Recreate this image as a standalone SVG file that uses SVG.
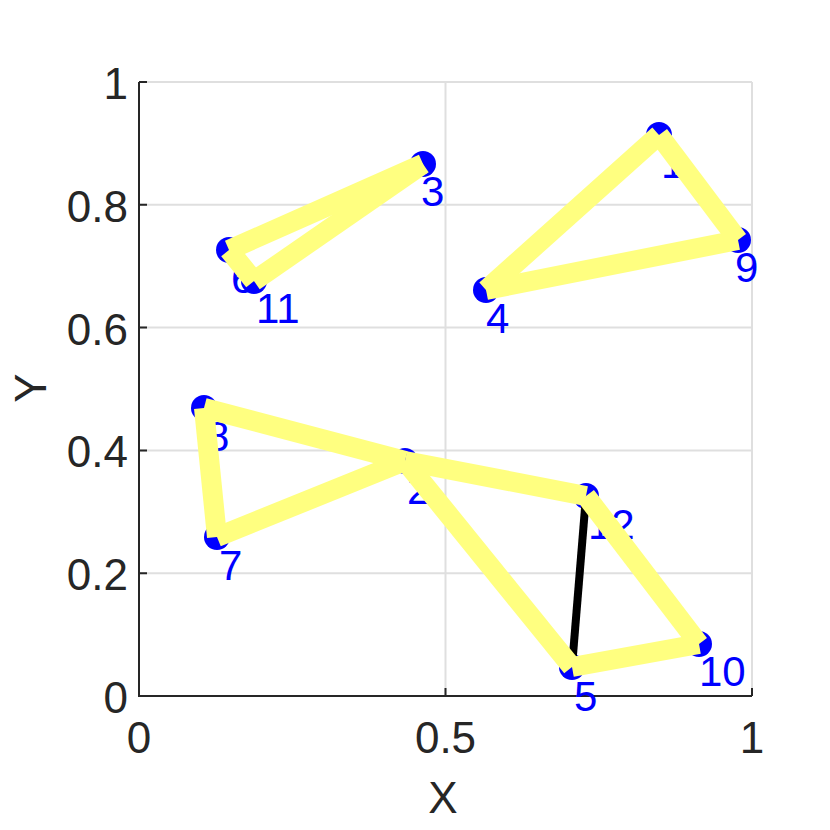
<svg xmlns="http://www.w3.org/2000/svg" width="830" height="830" viewBox="0 0 830 830">
<style>
.grid{stroke:#dfdfdf;stroke-width:2;fill:none}
.axis{stroke:#262626;stroke-width:2;fill:none}
.tick{font-family:"Liberation Sans",Arial,sans-serif;font-size:44px;fill:#262626}
.lbl{font-family:"Liberation Sans",Arial,sans-serif;font-size:42px;fill:#0000ff}
.mk{fill:#0000ff}
.edge{stroke:#ffff80;stroke-width:20;fill:none;stroke-linecap:butt}
.blk{stroke:#000;stroke-width:8;fill:none}
</style>
<rect width="830" height="830" fill="#fff"/>
<g id="grid">
<path class="grid" d="M445.5 82V696M752 82V696M139 82H752M139 204.8H752M139 327.6H752M139 450.4H752M139 573.2H752"/>
</g>
<g id="axes">
<path class="axis" d="M139 82V696H752"/>
<path class="axis" d="M139 82H147M139 204.8H147M139 327.6H147M139 450.4H147M139 573.2H147M445.5 696V688M752 696V688"/>
<g class="tick" text-anchor="end">
<text x="128" y="713">0</text>
<text x="128" y="590">0.2</text>
<text x="128" y="467">0.4</text>
<text x="128" y="345">0.6</text>
<text x="128" y="222">0.8</text>
<text x="128" y="99">1</text>
</g>
<g class="tick" text-anchor="middle">
<text x="139" y="753">0</text>
<text x="445.5" y="753">0.5</text>
<text x="752" y="753">1</text>
<text x="443" y="813">X</text>
<text transform="translate(46 388) rotate(-90)">Y</text>
</g>
</g>
<g id="labels">
<text class="lbl" x="661" y="178">1</text>
<text class="lbl" x="407" y="504">2</text>
<text class="lbl" x="421" y="206">3</text>
<text class="lbl" x="486" y="333">4</text>
<text class="lbl" x="574" y="711">5</text>
<text class="lbl" x="231" y="293">6</text>
<text class="lbl" x="219" y="580">7</text>
<text class="lbl" x="206" y="451">8</text>
<text class="lbl" x="735" y="282">9</text>
<text class="lbl" x="699" y="686">10</text>
<text class="lbl" x="256" y="323">11</text>
<text class="lbl" x="588" y="539">12</text>
</g>
<g id="nodes">
<circle id="n1" class="mk" cx="659" cy="135" r="13"/>
<circle id="n2" class="mk" cx="405" cy="461" r="13"/>
<circle id="n3" class="mk" cx="423" cy="164" r="13"/>
<circle id="n4" class="mk" cx="486" cy="290" r="13"/>
<circle id="n5" class="mk" cx="572" cy="667" r="13"/>
<circle id="n6" class="mk" cx="229" cy="250" r="13"/>
<circle id="n7" class="mk" cx="217" cy="537" r="13"/>
<circle id="n8" class="mk" cx="204" cy="408" r="13"/>
<circle id="n9" class="mk" cx="738" cy="240" r="13"/>
<circle id="n10" class="mk" cx="699" cy="644" r="13"/>
<circle id="n11" class="mk" cx="254" cy="281" r="13"/>
<circle id="n12" class="mk" cx="586" cy="496" r="13"/>
</g>
<g id="connectors">
<line class="blk" x1="586" y1="496" x2="572" y2="667"/>
<line class="edge" x1="423" y1="164" x2="229" y2="250"/>
<line class="edge" x1="229" y1="250" x2="254" y2="281"/>
<line class="edge" x1="254" y1="281" x2="423" y2="164"/>
<line class="edge" x1="659" y1="135" x2="738" y2="240"/>
<line class="edge" x1="738" y1="240" x2="486" y2="290"/>
<line class="edge" x1="486" y1="290" x2="659" y2="135"/>
<line class="edge" x1="204" y1="408" x2="217" y2="537"/>
<line class="edge" x1="217" y1="537" x2="405" y2="461"/>
<line class="edge" x1="204" y1="408" x2="405" y2="461"/>
<line class="edge" x1="405" y1="461" x2="586" y2="496"/>
<line class="edge" x1="405" y1="461" x2="572" y2="667"/>
<line class="edge" x1="572" y1="667" x2="699" y2="644"/>
<line class="edge" x1="699" y1="644" x2="586" y2="496"/>
</g>
</svg>
